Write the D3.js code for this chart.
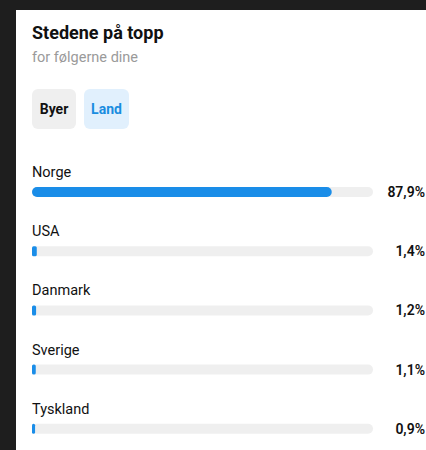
<!DOCTYPE html>
<html>
<head>
<meta charset="utf-8">
<script src="https://cdn.jsdelivr.net/npm/d3@7"></script>
<style>
  body { margin: 0; background: #1e1e1e; }
  svg { display: block; font-family: Roboto, "Noto Sans", sans-serif; }
</style>
</head>
<body>
<div id="chart"></div>
<script>
const countries = ["Norge", "USA", "Danmark", "Sverige", "Tyskland"];
const shares = [87.9, 1.4, 1.2, 1.1, 0.9];
const shareLabels = ["87,9%", "1,4%", "1,2%", "1,1%", "0,9%"];
const tabs = ["Byer", "Land"];

const width = 426, height = 450;

const svg = d3.select("#chart").append("svg")
  .attr("width", width)
  .attr("height", height);

// dark frame and white card
svg.append("rect").attr("width", width).attr("height", height).attr("fill", "#1e1e1e");
svg.append("rect").attr("x", 16).attr("y", 10).attr("width", width).attr("height", height)
  .attr("fill", "#ffffff");

svg.append("text").attr("x", 32).attr("y", 39)
  .attr("font-size", 18).attr("font-weight", 700).attr("fill", "#111")
  .text("Stedene på topp");
svg.append("text").attr("x", 32).attr("y", 62)
  .attr("font-size", 14.5).attr("fill", "#9a9a9a")
  .text("for følgerne dine");

// tab buttons
const tabX = d3.scaleOrdinal().domain(tabs).range([32, 84]);
const tabW = {Byer: 44, Land: 45};
const tab = svg.selectAll(".tab").data(tabs).enter().append("g")
  .attr("class", "tab")
  .attr("transform", d => `translate(${tabX(d)},89)`);
tab.append("rect")
  .attr("width", d => tabW[d]).attr("height", 40).attr("rx", 6)
  .attr("fill", d => d === "Land" ? "#e1f0fd" : "#efefef");
tab.append("text")
  .attr("x", d => tabW[d] / 2).attr("y", 25)
  .attr("text-anchor", "middle")
  .attr("font-size", 14).attr("font-weight", 700)
  .attr("fill", d => d === "Land" ? "#1a8de0" : "#111")
  .text(d => d);

// bars
const x = d3.scaleLinear().domain([0, 100]).range([32, 373]);
const y = d3.scaleBand().domain(countries).range([160, 456]).paddingInner(0);

const row = svg.selectAll(".row").data(countries).enter().append("g")
  .attr("class", "row")
  .attr("transform", d => `translate(0,${y(d)})`);

row.append("text")
  .attr("x", 32).attr("y", 17)
  .attr("font-size", 14.5).attr("fill", "#111")
  .text(d => d);

row.append("rect")
  .attr("x", x(0)).attr("y", 27)
  .attr("width", x(100) - x(0)).attr("height", 10).attr("rx", 5)
  .attr("fill", "#efefef");

row.append("rect")
  .attr("x", x(0)).attr("y", 27)
  .attr("width", (d, i) => Math.max(3, x(shares[i]) - x(0))).attr("height", 10)
  .attr("rx", (d, i) => shares[i] > 5 ? 5 : 1.5)
  .attr("fill", "#1a8de8");

row.append("text")
  .attr("x", 425).attr("y", 37)
  .attr("text-anchor", "end")
  .attr("font-size", 14).attr("font-weight", 600).attr("fill", "#111")
  .text((d, i) => shareLabels[i]);
</script>
</body>
</html>
